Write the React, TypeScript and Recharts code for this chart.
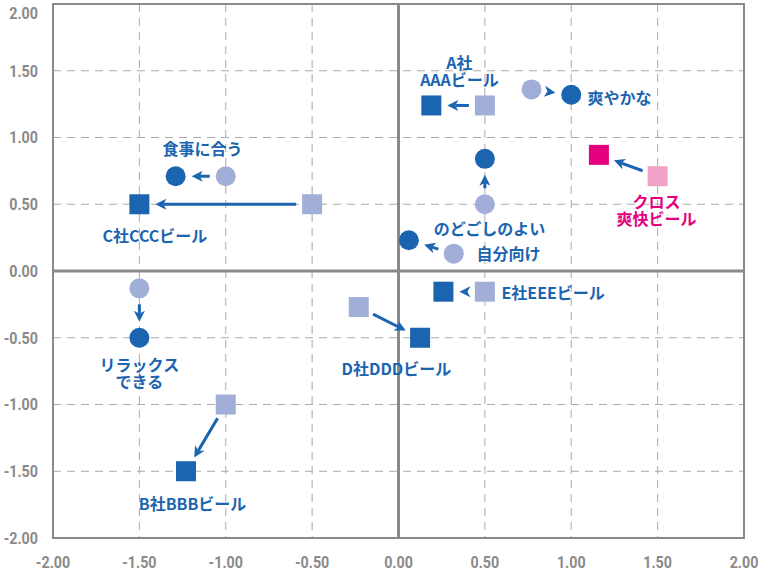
import {
  CartesianGrid,
  ReferenceArea,
  ReferenceLine,
  Scatter,
  ScatterChart,
  XAxis,
  YAxis,
} from 'recharts'

const TICKS = [-2, -1.5, -1, -0.5, 0, 0.5, 1, 1.5, 2]

// 属性（丸）: 前回 → 今回
const ATTR_NAMES = ['食事に合う', '爽やかな', 'のどごしのよい', '自分向け', 'リラックスできる']
const ATTR_BEFORE_X = [-1.0, 0.77, 0.5, 0.32, -1.5]
const ATTR_BEFORE_Y = [0.71, 1.36, 0.5, 0.13, -0.13]
const ATTR_AFTER_X = [-1.29, 1.0, 0.5, 0.06, -1.5]
const ATTR_AFTER_Y = [0.71, 1.32, 0.84, 0.23, -0.5]

// ブランド（四角）: 前回 → 今回
const BRAND_NAMES = ['A社AAAビール', 'B社BBBビール', 'C社CCCビール', 'D社DDDビール', 'E社EEEビール', 'クロス爽快ビール']
const BRAND_BEFORE_X = [0.5, -1.0, -0.5, -0.23, 0.5, 1.5]
const BRAND_BEFORE_Y = [1.24, -1.0, 0.5, -0.27, -0.155, 0.71]
const BRAND_AFTER_X = [0.19, -1.23, -1.5, 0.125, 0.26, 1.16]
const BRAND_AFTER_Y = [1.24, -1.5, 0.5, -0.5, -0.155, 0.87]

const HIGHLIGHT = 'クロス爽快ビール'

const DARK = '#1a64b0'
const LIGHT = '#a0aed8'
const PINK = '#e4007f'
const PINK_LIGHT = '#f1a1c6'
const GRAY = '#8a8a8a'

// ラベルの置き場所（データ座標）
const LABELS = [
  { lines: ['食事に合う'], x: -1.135, y: 0.92, anchor: 'middle' },
  { lines: ['C社CCCビール'], x: -1.41, y: 0.27, anchor: 'middle' },
  { lines: ['A社', 'AAAビール'], x: 0.353, y: 1.565, anchor: 'middle' },
  { lines: ['爽やかな'], x: 1.094, y: 1.303, anchor: 'start' },
  { lines: ['クロス', '爽快ビール'], x: 1.493, y: 0.524, anchor: 'middle', pink: true },
  { lines: ['のどごしのよい'], x: 0.527, y: 0.32, anchor: 'middle' },
  { lines: ['自分向け'], x: 0.452, y: 0.135, anchor: 'start' },
  { lines: ['リラックス', 'できる'], x: -1.5, y: -0.697, anchor: 'middle' },
  { lines: ['B社BBBビール'], x: -1.192, y: -1.738, anchor: 'middle' },
  { lines: ['E社EEEビール'], x: 0.596, y: -0.157, anchor: 'start' },
  { lines: ['D社DDDビール'], x: -0.012, y: -0.727, anchor: 'middle' },
]

const toPoints = (names: string[], xs: number[], ys: number[]) =>
  names.map((name, i) => ({ name, x: xs[i], y: ys[i] }))

const attrBefore = toPoints(ATTR_NAMES, ATTR_BEFORE_X, ATTR_BEFORE_Y)
const attrAfter = toPoints(ATTR_NAMES, ATTR_AFTER_X, ATTR_AFTER_Y)
const brandBefore = toPoints(BRAND_NAMES, BRAND_BEFORE_X, BRAND_BEFORE_Y)
const brandAfter = toPoints(BRAND_NAMES, BRAND_AFTER_X, BRAND_AFTER_Y)

const arrows = [
  ...attrBefore.map((p, i) => [p, attrAfter[i]]),
  ...brandBefore.map((p, i) => [p, brandAfter[i]]),
]

const FONT = "'Noto Sans CJK JP', 'Noto Sans', sans-serif"
const TICK_FONT = 'Roboto, sans-serif'

function Arrow(props: any) {
  const { x1, y1, x2, y2 } = props
  const dx = x2 - x1
  const dy = y2 - y1
  const len = Math.hypot(dx, dy)
  const ux = dx / len
  const uy = dy / len
  const nx = -uy
  const ny = ux
  const gap = 16
  const head = 11
  const half = 5.5
  const tx = x2 - ux * gap
  const ty = y2 - uy * gap
  const bx = tx - ux * head
  const by = ty - uy * head
  const kx = tx - ux * (head - 3)
  const ky = ty - uy * (head - 3)
  const sx = x1 + ux * gap
  const sy = y1 + uy * gap
  const showShaft = len - 2 * gap > head
  return (
    <g>
      {showShaft && (
        <line x1={sx} y1={sy} x2={kx} y2={ky} stroke={DARK} strokeWidth={3} />
      )}
      <path
        d={`M${tx},${ty} L${bx + nx * half},${by + ny * half} L${kx},${ky} L${bx - nx * half},${by - ny * half} Z`}
        fill={DARK}
      />
    </g>
  )
}

const circleShape = (fill: string) => (p: any) => (
  <circle cx={p.cx} cy={p.cy} r={10} fill={fill} />
)

const squareShape = (fill: string, hi: string) => (p: any) => (
  <rect
    x={p.cx - 10}
    y={p.cy - 10}
    width={20}
    height={20}
    fill={p.payload?.name === HIGHLIGHT ? hi : fill}
  />
)

function LabelShape(p: any) {
  const d = p.payload
  return (
    <text
      x={p.cx}
      y={p.cy}
      textAnchor={d.anchor}
      dominantBaseline="central"
      fill={d.pink ? PINK : DARK}
      fontFamily={FONT}
      fontWeight={700}
      fontSize={16}
    >
      {d.lines.map((t: string, i: number) => (
        <tspan key={i} x={p.cx} dy={i === 0 ? 0 : 17}>
          {t}
        </tspan>
      ))}
    </text>
  )
}

// 細めの数字にするため横だけ縮める
function TickText({ x, y, anchor, value }: any) {
  return (
    <text
      transform={`translate(${x},${y}) scale(0.84,1)`}
      textAnchor={anchor}
      dominantBaseline="central"
      fill={GRAY}
      fontFamily={TICK_FONT}
      fontWeight={700}
      fontSize={17}
    >
      {value.toFixed(2)}
    </text>
  )
}

function YTick({ x, y, payload }: any) {
  return <TickText x={x} y={Math.max(y, 13)} anchor="end" value={payload.value} />
}

function XTick({ x, y, payload }: any) {
  return <TickText x={x} y={y} anchor="middle" value={payload.value} />
}

export default function App() {
  return (
    <div style={{ position: 'absolute', left: 0, top: 0 }}>
      <ScatterChart
        width={760}
        height={572}
        margin={{ top: 4, right: 16, bottom: 0, left: 0 }}
      >
        <CartesianGrid stroke="#aaaaaa" strokeDasharray="8 6" />
        <XAxis
          type="number"
          dataKey="x"
          domain={[-2, 2]}
          ticks={TICKS}
          interval={0}
          height={34}
          axisLine={false}
          tickLine={false}
          tickSize={0}
          tickMargin={24}
          tick={<XTick />}
        />
        <YAxis
          type="number"
          dataKey="y"
          domain={[-2, 2]}
          ticks={TICKS}
          interval={0}
          width={53}
          axisLine={false}
          tickLine={false}
          tickSize={0}
          tickMargin={15}
          tick={<YTick />}
        />
        <ReferenceLine x={0} stroke={GRAY} strokeWidth={3} />
        <ReferenceLine y={0} stroke={GRAY} strokeWidth={3} />
        <ReferenceArea x1={-2} x2={2} y1={-2} y2={2} fill="none" stroke={GRAY} strokeWidth={2} fillOpacity={0} />
        <Scatter data={attrBefore} shape={circleShape(LIGHT)} isAnimationActive={false} />
        <Scatter data={attrAfter} shape={circleShape(DARK)} isAnimationActive={false} />
        <Scatter data={brandBefore} shape={squareShape(LIGHT, PINK_LIGHT)} isAnimationActive={false} />
        <Scatter data={brandAfter} shape={squareShape(DARK, PINK)} isAnimationActive={false} />
        {arrows.map(([a, b], i) => (
          <ReferenceLine
            key={i}
            segment={[{ x: a.x, y: a.y }, { x: b.x, y: b.y }]}
            shape={Arrow}
          />
        ))}
        <Scatter data={LABELS} shape={LabelShape} isAnimationActive={false} />
      </ScatterChart>
    </div>
  )
}
